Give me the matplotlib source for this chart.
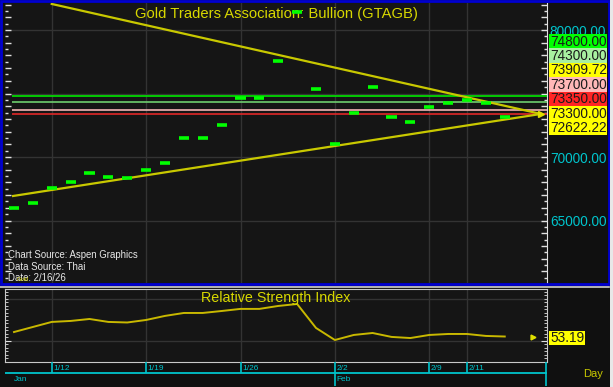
import numpy as np
import matplotlib.pyplot as plt
from matplotlib.patches import Rectangle
from matplotlib.ticker import MultipleLocator, FuncFormatter

plt.rcParams['font.family'] = ['Liberation Sans']

# trading days shown on the chart
dates = ['1/8', '1/9', '1/12', '1/13', '1/14', '1/15', '1/16',
         '1/19', '1/20', '1/21', '1/22', '1/23',
         '1/26', '1/27', '1/28', '1/29', '1/30',
         '2/2', '2/3', '2/4', '2/5', '2/6',
         '2/9', '2/10', '2/11', '2/12', '2/13']
price = [65980, 66380, 67560, 68030, 68740, 68430, 68350,
         68980, 69530, 71500, 71500, 72520,
         74650, 74650, 77560, 81420, 75350,
         71020, 73470, 75510, 73150, 72760,
         73940, 74250, 74490, 74250, 73150]
rsi = [56.4, 60.0, 63.6, 64.3, 65.7, 63.6, 63.2,
       65.0, 67.9, 70.0, 70.0, 71.4,
       72.9, 72.9, 75.0, 76.4, 59.3,
       50.7, 54.3, 55.7, 52.9, 52.1,
       54.3, 55.0, 55.0, 53.6, 53.19]

# horizontal levels and trend lines
levels = [74800, 74300, 73700, 73350]
level_colors = ['#00e800', '#6fcf6f', '#f2b4b4', '#e02828']
down_x = [2, 27.92]
down_y = [82050, 73390]
up_x = [-0.05, 27.92]
up_y = [66930, 73390]

# right hand price boxes
box_text = ['74800.00', '74300.00', '73909.72', '73700.00', '73350.00', '73300.00', '72622.22']
box_colors = ['#00ff00', '#a8f0a0', '#ffff00', '#ffb8b8', '#ff2424', '#ffff00', '#ffff00']
axis_labels = [65000, 70000, 80000]

grid_dates = ['1/12', '1/19', '1/26', '2/2', '2/9', '2/11']

W, H = 613, 387
BG = '#151515'
CYAN = '#00c4cc'
YEL = '#d8d800'

fig = plt.figure(figsize=(W / 100, H / 100), dpi=100, facecolor='#101010')


def px_axes(x0, y0, x1, y1):
    return fig.add_axes([x0 / W, 1 - y1 / H, (x1 - x0) / W, (y1 - y0) / H])


x_lo = (5 - 14) / 18.875
x_hi = (547 - 14) / 18.875
idx = np.arange(len(dates))
grid_idx = [dates.index(d) for d in grid_dates]

# ---- main price panel ----
ax = px_axes(5, 3, 547, 283)
ax.set_facecolor(BG)
ax.set_xlim(x_lo, x_hi)
ax.set_ylim(60079, 82126)
for g in [65000, 70000, 75000, 80000]:
    ax.axhline(g, color='#333333', lw=1, zorder=0)
for g in grid_idx:
    ax.axvline(g, color='#333333', lw=1, zorder=0)

for lv, c in zip(levels, level_colors):
    ax.hlines(lv, -0.1, x_hi, color=c, lw=1.2, zorder=2)

ax.plot(down_x, down_y, color='#c8c800', lw=1.6, zorder=3)
ax.plot(up_x, up_y, color='#c8c800', lw=1.6, zorder=3)
ax.plot([27.92], [73390], marker='>', ms=4, color='#e0e000', zorder=3)

ax.hlines(price, idx - 0.27, idx + 0.27, color='#00ff00', lw=2.6, zorder=4)

ax.set_xticks([])
ax.yaxis.set_major_locator(MultipleLocator(1000))
ax.yaxis.set_minor_locator(MultipleLocator(500))
ax.yaxis.set_major_formatter(FuncFormatter(lambda v, p: '%.2f' % v if v in axis_labels else ''))
ax.tick_params(axis='y', which='both', direction='in', left=True, right=True,
               labelleft=False, labelright=True, color='#e0e0e0', width=1,
               labelcolor=CYAN, labelsize=9.8, pad=2)
ax.tick_params(axis='y', which='major', length=4)
ax.tick_params(axis='y', which='minor', length=2.5)
for s in ['top', 'left', 'bottom']:
    ax.spines[s].set_visible(False)
ax.spines['right'].set_color('#e0e0e0')

ax.text(0.5, 0.985, 'Gold Traders Association: Bullion (GTAGB)', transform=ax.transAxes,
        ha='center', va='top', color=YEL, fontsize=10.6)
fig.text(8 / W, 1 - 255 / H, 'Chart Source: Aspen Graphics', color='#e8e8e8', fontsize=6.9, va='center')
fig.text(8 / W, 1 - 267 / H, 'Data Source: Thai', color='#e8e8e8', fontsize=6.9, va='center')
fig.text(8 / W, 1 - 278 / H, 'Date: 2/16/26', color='#e8e8e8', fontsize=6.9, va='center')
fig.text(17 / W, 1 - 279.5 / H, 'Gold', color='#c8c800', fontsize=4.2, va='center')

# ---- RSI panel ----
ar = px_axes(5, 289, 547, 362)
ar.set_facecolor(BG)
ar.set_xlim(x_lo, x_hi)
ar.set_ylim(35.0, 87.1)
for g in [50, 80]:
    ar.axhline(g, color='#333333', lw=1, zorder=0)
for g in grid_idx:
    ar.axvline(g, color='#333333', lw=1, zorder=0)
ar.plot(idx, rsi, color='#c8b800', lw=1.4)
ar.plot([27.5], [53.19], marker='>', ms=3.5, color='#e0e000', clip_on=False)
ar.set_xticks([])
ar.set_yticks([50])
ar.set_yticklabels(['50.00'])
ar.yaxis.set_minor_locator(MultipleLocator(2.5))
ar.tick_params(axis='y', which='both', direction='in', left=True, right=True,
               labelleft=False, labelright=True, color='#e0e0e0',
               labelcolor=CYAN, labelsize=9.5, pad=2)
ar.tick_params(axis='y', which='major', length=4)
ar.tick_params(axis='y', which='minor', length=2.5)
for s in ar.spines.values():
    s.set_color('#c8c8c8')
ar.text(0.5, 0.97, 'Relative Strength Index', transform=ar.transAxes,
        ha='center', va='top', color=YEL, fontsize=10.3)

# ---- date strip ----
ad = px_axes(5, 362, 547, 386)
ad.set_facecolor(BG)
ad.set_xlim(x_lo, x_hi)
ad.set_ylim(24, 0)
ad.axis('off')
ad.hlines(11, x_lo, x_hi, color=CYAN, lw=1.3)
for d, g in zip(grid_dates, grid_idx):
    bottom = 24 if d == '2/2' else 11
    ad.vlines(g, 0, bottom, color=CYAN, lw=1.2)
    ad.text(g + 0.08, 6.5, d, color=CYAN, fontsize=6, va='center')
ad.vlines(x_hi - 0.03, 0, 24, color=CYAN, lw=1.2)
ad.text(0, 17.5, 'Jan', color=CYAN, fontsize=6, va='center')
ad.text(17.08, 17.5, 'Feb', color=CYAN, fontsize=6, va='center')

# ---- overlay: frames and price boxes ----
ov = fig.add_axes([0, 0, 1, 1])
ov.set_xlim(0, W)
ov.set_ylim(H, 0)
ov.axis('off')
ov.patch.set_alpha(0)
ov.add_patch(Rectangle((1, 1), 608, 283, fill=False, ec='#0000d0', lw=2))
ov.plot([0, 609], [286.5, 286.5], color='#d0d0d0', lw=1.2)
ov.add_patch(Rectangle((609.5, 0), 4, H, fc='#e8e8e8', ec='none'))
row_h = 14.4
for k, (t, c) in enumerate(zip(box_text, box_colors)):
    top = 34 + k * row_h
    ov.add_patch(Rectangle((549, top), 58, row_h, fc=c, ec='none'))
    ov.text(550, top + row_h / 2 + 0.5, t, color='#1a1a1a', fontsize=9.8, va='center')
ov.add_patch(Rectangle((549, 331), 36, 14, fc='#ffff00', ec='none'))
ov.text(550, 338.5, '53.19', color='#1a1a1a', fontsize=9.8, va='center')
ov.text(583, 374, 'Day', color='#c8c800', fontsize=8, va='center')

fig.savefig('out.png', dpi=100, facecolor=fig.get_facecolor())
